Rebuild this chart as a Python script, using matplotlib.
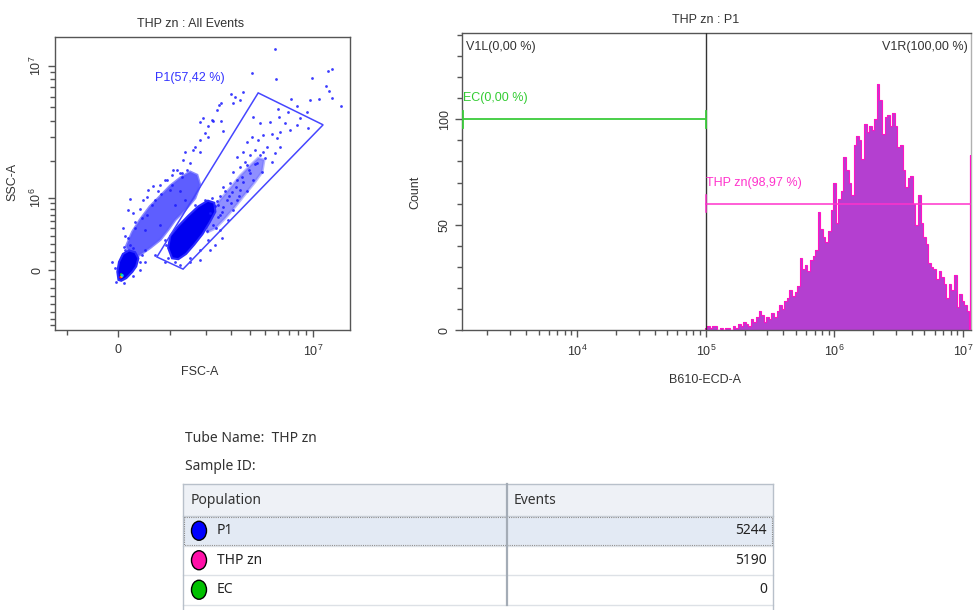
import numpy as np
import matplotlib
matplotlib.use("Agg")
import matplotlib.pyplot as plt
from matplotlib.patches import Rectangle, Ellipse
from matplotlib.ticker import FixedLocator, FixedFormatter, NullFormatter

plt.rcParams['font.family'] = ['Liberation Sans', 'DejaVu Sans']
plt.rcParams['mathtext.fontset'] = 'custom'
plt.rcParams['mathtext.rm'] = 'Liberation Sans'
plt.rcParams['mathtext.it'] = 'Liberation Sans:italic'
plt.rcParams['mathtext.bf'] = 'Liberation Sans:bold'

# ---------------- FSC-A / SSC-A dot plot (values in units of 1e6) ----------------
fsc_dots = [5.76, 4.1, 12.3, 13.0, 5.85, 9.8, 12.0, 12.5, 14.9, 13.1, 3.6, 3.18, 3.08, 2.56,
            7.3, 9.5, 10.9, 7.9, 6.0, 6.9, 9.1, 6.1, 8.3, 9.3, 4.16, 4.62, 5.35, 6.66, 7.9,
            7.16, 6.2, 5.5, 5.9, 4.82, 4.49, 4.1, 3.8, 5.1, 6.2, 5.76, 4.82, 4.29, 3.98, 3.6,
            3.28, 4.96, 5.5, 4.42, 3.8, 3.43, 3.09, 3.98, 4.76, 4.16, 3.6, 3.28, 2.95, 2.64,
            3.43, 3.04, 3.8, 2.52, 2.82, 3.28, 2.33, 2.64, 3.09, 2.13, 2.44, 2.86, 2.25, 2.03,
            2.52, 2.25, 2.56, 2.07, 1.97, 2.64, 1.9, 1.80, 2.2, 2.07, 1.65, 1.37, 1.80, 1.32,
            1.08, 1.51, 1.25, 0.9, 0.21, 0.45, 0.53, 0.085, 0.26, 1.80, 1.59, 1.17, 1.05, 0.94,
            1.3, 1.43, 0.64, 2.4, 2.45, 3.0, 3.43, 0.54, 0.75, 0.17, 0.79, 1.01, 0.39, 0.68,
            0.30, 0.12, 0.49, 0.79, 0.9, 0.68, 0.49, 0.9, 2.33, 2.6, 1.80, 1.51, 1.25, 2.13,
            1.65, 1.37, 1.12, 1.25, 0.53, -0.06, -0.11, 0.39, 0.49, 0.21, 2.9, 3.2, 2.7, 3.5,
            3.9, 4.3, 3.7, 4.6, 2.4, 2.6, 3.0, 3.35,
            0.17, 0.30, 0.43, 0.62, 0.81, 1.05, 1.30, 0.11, 0.92, 0.96, 1.12, 1.51, 1.80, 2.06,
            2.37, 2.52, 2.44, 2.21, 1.97, -0.04, 0.10, 0.263, 0.39, 0.43, 0.263, 0.10]
ssc_dots = [13.4, 8.9, 9.2, 9.5, 8.1, 8.2, 7.2, 6.6, 5.1, 5.9, 6.5, 6.0, 5.4, 5.4,
            5.8, 5.7, 5.8, 5.1, 4.9, 4.6, 4.6, 4.25, 4.2, 3.5, 4.25, 3.85, 3.9, 3.85, 3.72,
            3.41, 3.3, 3.2, 2.97, 3.13, 2.87, 3.03, 2.78, 2.55, 2.55, 2.3, 2.34, 2.42, 2.22, 2.34,
            2.14, 2.1, 1.96, 1.92, 1.86, 1.8, 1.64, 1.61, 1.64, 1.42, 1.37, 1.42, 1.35, 1.25,
            1.18, 1.12, 1.14, 1.04, 0.97, 0.97, 0.85, 0.83, 0.78, 0.73, 0.67, 0.62, 0.55, 0.46,
            0.48, 3.98, 3.98, 3.66, 3.24, 3.35, 4.2, 3.9, 4.04, 3.03, 2.55, 2.34, 2.34, 2.03,
            1.70, 1.93, 1.61, 1.42, 0.99, 0.97, 1.03, 0.50, 0.73, 2.87, 2.42, 1.70, 1.55, 1.42,
            1.61, 1.70, 1.26, 4.79, 5.2, 6.3, 5.7, 1.18, 1.14, 0.78, 1.29, 1.18, 0.80, 0.97,
            0.59, 0.39, 0.48, 0.55, 0.35, 0.17, 0.09, 0.09, 0.29, 0.37, 0.11, 0.09, 0.055, 0.23,
            0.87, 0.97, 0.87, 1.14, 0.70, 0.02, 0.09, 0.0, 0.23, 0.29, 1.05, 1.25, 1.15, 1.5,
            1.7, 1.9, 1.95, 2.2, 0.95, 0.75, 0.9, 1.05,
            0.37, 0.50, 0.65, 0.87, 1.08, 1.29, 1.50, 0.225, 0.285, 0.134, 0.09, 0.134, 0.225,
            0.346, 0.504, 0.697, 0.867, 1.0, 0.967, -0.134, -0.145, -0.066, 0.089, 0.168,
            0.25, 0.261]

# outlines of the saturated / dense parts of the cloud
core_fsc = [1.05, 0.96, 1.01, 1.20, 1.45, 1.74, 2.06, 2.29, 2.33, 2.13, 1.88, 1.63, 1.40, 1.20]
core_ssc = [0.13, 0.25, 0.40, 0.53, 0.68, 0.84, 0.95, 0.91, 0.75, 0.59, 0.42, 0.29, 0.18, 0.12]
debris_fsc = [0.0, -0.02, 0.01, 0.08, 0.19, 0.30, 0.36, 0.32, 0.25, 0.14, 0.05]
debris_ssc = [-0.11, -0.02, 0.09, 0.18, 0.22, 0.20, 0.13, 0.04, -0.02, -0.09, -0.12]
arm_fsc = [0.14, 0.25, 0.39, 0.58, 0.79, 1.01, 1.25, 1.51, 1.71, 1.80, 1.65, 1.37, 1.12,
           0.96, 0.79, 0.58, 0.39, 0.25]
arm_ssc = [0.27, 0.45, 0.62, 0.84, 1.04, 1.27, 1.47, 1.64, 1.55, 1.29, 1.00, 0.78, 0.62,
           0.48, 0.35, 0.25, 0.17, 0.13]
tail_fsc = [1.97, 2.21, 2.52, 2.95, 3.43, 3.98, 4.49, 4.90, 4.76, 4.29, 3.69, 3.18, 2.73,
            2.33, 2.06]
tail_ssc = [0.55, 0.75, 0.97, 1.22, 1.53, 1.83, 2.10, 2.03, 1.64, 1.37, 1.08, 0.84, 0.65,
            0.50, 0.45]
hot_fsc = [0.04, 0.06, 0.05, 0.07]
hot_ssc = [-0.08, -0.07, -0.05, -0.06]
hot_colors = ['#ff2000', '#ffd000', '#20d020', '#00c8ff']

gate_p1_fsc = [0.72, 1.32, 11.5, 4.49]
gate_p1_ssc = [0.145, 0.01, 3.72, 6.38]

# ---------------- B610-ECD-A histogram ----------------
hist_log_start = 4.99
hist_log_step = 0.02
hist_counts = [1, 2, 1, 2, 2, 0, 1, 0, 1, 1, 0, 2, 1, 3, 2, 4, 3, 2, 5, 4,
               6, 9, 7, 4, 6, 5, 8, 6, 9, 12, 10, 14, 15, 19, 16, 18, 21, 34, 29, 31,
               28, 33, 35, 38, 56, 48, 44, 42, 47, 57, 70, 51, 62, 66, 82, 76, 70, 64, 88, 92,
               90, 81, 98, 94, 97, 95, 100, 117, 109, 93, 101, 102, 97, 103, 97, 87, 88, 76, 68, 72,
               73, 60, 50, 64, 51, 44, 41, 32, 30, 29, 24, 28, 25, 22, 15, 22, 19, 26, 11, 17,
               14, 12, 9]
overflow_count = 83

populations = ['P1', 'THP zn', 'EC']
events = [5244, 5190, 0]
pop_colors = ['#0000ff', '#ff10a8', '#00c000']

FSC_C, SSC_C = 1.25, 0.66
TXT = '#333333'
SPINE = '#555555'


def asinh_funcs(c):
    return (lambda v: np.arcsinh(np.asarray(v, dtype=float) / c),
            lambda u: c * np.sinh(np.asarray(u, dtype=float)))


fig = plt.figure(figsize=(9.73, 6.10), dpi=100)

# ---- left: dot plot ----
ax1 = fig.add_axes([55 / 973, 1 - 330 / 610, 295 / 973, 293 / 610])
ax1.set_xscale('function', functions=asinh_funcs(FSC_C))
ax1.set_yscale('function', functions=asinh_funcs(SSC_C))
ax1.set_xlim(-1.29, 16.9)
ax1.set_ylim(-0.78, 16.3)

ax1.fill(arm_fsc, arm_ssc, fc='#2020ff', ec='#5a5aff', alpha=0.72, lw=2, zorder=1)
ax1.fill(tail_fsc, tail_ssc, fc='#2020ff', ec='#7070ff', alpha=0.5, lw=2, zorder=1)
ax1.fill(core_fsc, core_ssc, fc='#0000f0', ec='#2a2aff', lw=1.5, zorder=2)
ax1.fill(debris_fsc, debris_ssc, fc='#0000f0', ec='#2a2aff', lw=1.5, zorder=2)
ax1.scatter(fsc_dots, ssc_dots, s=4, color='#1a1aff', alpha=0.85, lw=0, zorder=3)
ax1.scatter(hot_fsc, hot_ssc, s=4, c=hot_colors, lw=0, zorder=4)
ax1.fill(gate_p1_fsc, gate_p1_ssc, fc='none', ec='#4646ff', lw=1.1, zorder=5)
ax1.text(0.68, 8.2, 'P1(57,42 %)', color='#3535ff', fontsize=9, va='center', ha='left')

ax1.xaxis.set_major_locator(FixedLocator([0, 10]))
ax1.xaxis.set_major_formatter(FixedFormatter(['0', '$10^{7}$']))
ax1.xaxis.set_minor_locator(FixedLocator([-1, 1, 2, 3, 4, 5, 6, 7, 8, 9]))
ax1.xaxis.set_minor_formatter(NullFormatter())
ax1.yaxis.set_major_locator(FixedLocator([0, 1, 10]))
ax1.yaxis.set_major_formatter(FixedFormatter(['0', '$10^{6}$', '$10^{7}$']))
ax1.yaxis.set_minor_locator(FixedLocator([-0.7, -0.6, -0.5, -0.4, -0.3, -0.2, -0.1,
                                          0.1, 0.2, 0.3, 0.4, 0.5, 0.6, 0.7, 0.8, 0.9,
                                          2, 3, 4, 5, 6, 7, 8, 9]))
ax1.yaxis.set_minor_formatter(NullFormatter())
ax1.set_xlabel('FSC-A', fontsize=9, color=TXT)
ax1.set_ylabel('SSC-A', fontsize=9, color=TXT)
ax1.xaxis.set_label_coords(0.49, -0.122)
ax1.yaxis.set_label_coords(-0.125, 0.505)
ax1.text(0.461, 1.045, 'THP zn : All Events', transform=ax1.transAxes, ha='center',
         va='center', fontsize=9, color=TXT)

# ---- right: histogram ----
ax2 = fig.add_axes([462 / 973, 1 - 330 / 610, 509 / 973, 297 / 610])
ax2.set_xscale('log')
ax2.set_xlim(10 ** 3.103, 10 ** 7.062)
ax2.set_ylim(0, 141)

edges = 10 ** (hist_log_start + hist_log_step * np.arange(len(hist_counts) + 1))
ax2.stairs(hist_counts, edges, fill=True, color='#b43fd0', zorder=2)
ax2.stairs(hist_counts, edges, color='#ff14c4', lw=0.8, zorder=3)
ov_edges = [10 ** 7.052, 10 ** 7.058]
ax2.stairs([overflow_count], ov_edges, fill=True, color='#b43fd0', zorder=2)
ax2.stairs([overflow_count], ov_edges, color='#ff14c4', lw=0.8, zorder=3)

x_left, x_right = ax2.get_xlim()
ax2.axvline(1e5, color='#333333', lw=1.0, zorder=4)
ax2.plot([x_left, 1e5], [100, 100], color='#3ccc3c', lw=1.3, zorder=5)
ax2.plot([x_left * 1.01, x_left * 1.01], [96, 104], color='#3ccc3c', lw=1.3, zorder=5)
ax2.plot([1e5, 1e5], [96, 104], color='#3ccc3c', lw=1.3, zorder=5)
ax2.plot([1e5, x_right], [60, 60], color='#ff33cc', lw=1.1, zorder=5)
ax2.plot([1e5, 1e5], [56, 64], color='#ff33cc', lw=1.1, zorder=5)
ax2.text(x_left * 1.02, 110, 'EC(0,00 %)', color='#33cc33', fontsize=9, va='center',
         ha='left', zorder=6)
ax2.text(1e5, 70, 'THP zn(98,97 %)', color='#ff33cc', fontsize=9, va='center',
         ha='left', zorder=6)
ax2.text(x_left * 1.08, 134.5, 'V1L(0,00 %)', color=TXT, fontsize=9, va='center', ha='left')
ax2.text(10 ** 7.035, 134.5, 'V1R(100,00 %)', color=TXT, fontsize=9, va='center', ha='right')

ax2.xaxis.set_major_locator(FixedLocator([1e4, 1e5, 1e6, 1e7]))
ax2.xaxis.set_major_formatter(FixedFormatter(['$10^{4}$', '$10^{5}$', '$10^{6}$', '$10^{7}$']))
minor_x = [m * 10 ** e for e in range(3, 7) for m in range(2, 10)]
ax2.xaxis.set_minor_locator(FixedLocator(minor_x))
ax2.xaxis.set_minor_formatter(NullFormatter())
ax2.yaxis.set_major_locator(FixedLocator([0, 50, 100]))
ax2.yaxis.set_minor_locator(FixedLocator(list(range(10, 141, 10))))
ax2.yaxis.set_minor_formatter(NullFormatter())
ax2.set_xlabel('B610-ECD-A', fontsize=9, color=TXT)
ax2.set_ylabel('Count', fontsize=9, color=TXT)
ax2.xaxis.set_label_coords(0.477, -0.148)
ax2.yaxis.set_label_coords(-0.079, 0.465)
ax2.text(0.478, 1.044, 'THP zn : P1', transform=ax2.transAxes, ha='center',
         va='center', fontsize=9, color=TXT)

for ax in (ax1, ax2):
    for sp in ax.spines.values():
        sp.set_color(SPINE)
        sp.set_linewidth(1.0)
    ax.tick_params(which='major', direction='out', length=5, width=1, color=SPINE,
                   labelsize=9, labelcolor=TXT, pad=5)
    ax.tick_params(which='minor', direction='out', length=3.5, width=1, color=SPINE)
    ax.tick_params(axis='y', labelrotation=90, pad=3)
    for lab in ax.get_yticklabels():
        lab.set_va('center')
ax2.spines['right'].set_color('#b0b0b0')

# ---------------- statistics table ----------------
axt = fig.add_axes([0, 0, 1, 1], zorder=-1)
axt.set_xlim(0, 973)
axt.set_ylim(610, 0)
axt.axis('off')

TFONT = ['Noto Sans', 'DejaVu Sans']
axt.text(185, 438, 'Tube Name:  THP zn', fontsize=10, family=TFONT, color=TXT, va='center')
axt.text(185, 466, 'Sample ID:', fontsize=10, family=TFONT, color=TXT, va='center')

tx0, tx1, tcol = 183, 773, 507
h_top, h_bot, row_h = 484, 516, 29.5
axt.add_patch(Rectangle((tx0, h_top), tx1 - tx0, h_bot - h_top, fc='#eef1f6', ec='none'))
axt.text(191, 500, 'Population', fontsize=10, family=TFONT, color=TXT, va='center')
axt.text(514, 500, 'Events', fontsize=10, family=TFONT, color=TXT, va='center')
axt.plot([tx0, tx1], [h_top, h_top], color='#b8c0ca', lw=1)
axt.plot([tx0, tx1], [h_bot, h_bot], color='#c8ced6', lw=1)

for i, (name, n, col) in enumerate(zip(populations, events, pop_colors)):
    y0 = h_bot + i * row_h
    yc = y0 + row_h / 2
    if i == 0:
        axt.add_patch(Rectangle((tx0 + 1, y0 + 1), tx1 - tx0 - 2, row_h - 2, fc='#e3eaf4',
                                ec='#7a7a7a', lw=0.8, ls=(0, (1, 1))))
    axt.add_patch(Ellipse((199, yc), 15, 19, fc=col, ec='black', lw=1))
    axt.text(217, yc, name, fontsize=10, family=TFONT, color='#222222', va='center')
    axt.text(767, yc, str(n), fontsize=10, family=TFONT, color='#222222', va='center',
             ha='right')
    axt.plot([tx0, tx1], [y0 + row_h, y0 + row_h], color='#dde1e6', lw=1)

axt.plot([tx0, tx0], [h_top, 610], color='#b8c0ca', lw=1)
axt.plot([tx1, tx1], [h_top, 610], color='#b8c0ca', lw=1)
axt.plot([tcol, tcol], [h_top, h_bot + 3 * row_h], color='#a4acb6', lw=1.6)

fig.savefig('out.png', dpi=100)
